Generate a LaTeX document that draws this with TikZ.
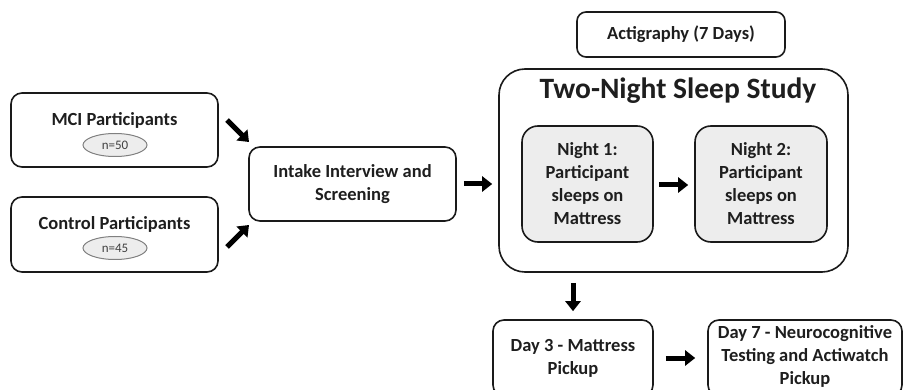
\documentclass[tikz,border=0pt]{standalone}
\usepackage{fontspec}
\setmainfont{Carlito}
\usetikzlibrary{shapes.geometric,arrows.meta}
\definecolor{edge}{HTML}{1A1A1A}
\definecolor{txt}{HTML}{1E1E1E}
\definecolor{nightfill}{HTML}{EDEDED}
\begin{document}
\begin{tikzpicture}[x=1pt,y=-1pt,
  box/.style={draw=edge,line width=1.6pt,rounded corners=11pt,align=center,
    font=\fontsize{18.5}{23}\selectfont\bfseries,text=txt,inner sep=0pt},
  nightbox/.style={box,fill=nightfill,rounded corners=16pt},
  oval/.style={ellipse,draw=black!50,line width=1pt,fill=black!7,
    minimum width=64pt,minimum height=23pt,inner sep=0pt,
    font=\fontsize{13}{15}\selectfont,text=black!75},
  lbl/.style={font=\fontsize{18.5}{23}\selectfont\bfseries,text=txt,inner sep=0pt,align=center},
  arr/.style={line width=5pt,-{Triangle[width=15pt,length=10pt]},draw=black}]
\useasboundingbox (0,0) rectangle (903,390);
\begin{scope}
\clip (0,0) rectangle (903,390);
% left boxes
\node[box,minimum width=207pt,minimum height=74pt] (mci) at (114.5,130) {};
\node[lbl] (mcit) at (114.5,120) {MCI Participants};
\node[oval] (n50) at (115,145) {n=50};
\node[box,minimum width=207pt,minimum height=75pt] (ctl) at (114.5,234.5) {};
\node[lbl] (ctlt) at (114.5,224) {Control Participants};
\node[oval] (n45) at (115,248) {n=45};
% intake
\node[box,minimum width=207pt,minimum height=74pt] (intake) at (352.5,184) {Intake Interview and\\Screening};
% actigraphy
\node[box,minimum width=208pt,minimum height=45pt,rounded corners=9pt] (acti) at (681,34.5) {Actigraphy (7 Days)};
% sleep study
\node[box,minimum width=349pt,minimum height=203pt,rounded corners=26pt] (sleep) at (673.5,170.5) {};
\node[lbl,font=\fontsize{29.5}{33}\selectfont\bfseries] (title) at (678,91) {Two-Night Sleep Study};
\node[nightbox,minimum width=131pt,minimum height=116pt] (n1) at (587.5,184) {Night 1:\\Participant\\sleeps on\\Mattress};
\node[nightbox,minimum width=132pt,minimum height=116pt] (n2) at (761,184) {Night 2:\\Participant\\sleeps on\\Mattress};
% bottom boxes
\node[box,minimum width=160pt,minimum height=76pt] (day3) at (573,358) {Day 3 - Mattress\\Pickup};
\node[box,minimum width=194pt,minimum height=76pt,text width=194pt] (day7) at (805,358) {};
\node[lbl] (day7t) at (805,356.5) {Day 7 - Neurocognitive\\Testing and Actiwatch\\Pickup};
\end{scope}
% arrows
\coordinate (a1s) at (227,120);
\coordinate (a1e) at (249,142);
\coordinate (a2s) at (227,247);
\coordinate (a2e) at (249,225);
\draw[arr] (a1s) -- (a1e);
\draw[arr] (a2s) -- (a2e);
\draw[arr,shorten <=7pt,shorten >=6pt] (intake.east) -- (intake.east -| sleep.west);
\draw[arr,shorten <=5pt,shorten >=6pt] ([yshift=-1pt]n1.east) -- ([yshift=-1pt]n2.west);
\draw[arr,shorten <=10pt,shorten >=8pt] (day3.north |- sleep.south) -- (day3.north);
\draw[arr,shorten <=12pt,shorten >=12pt] (day3.east) -- (day7.west);
\end{tikzpicture}
\end{document}
